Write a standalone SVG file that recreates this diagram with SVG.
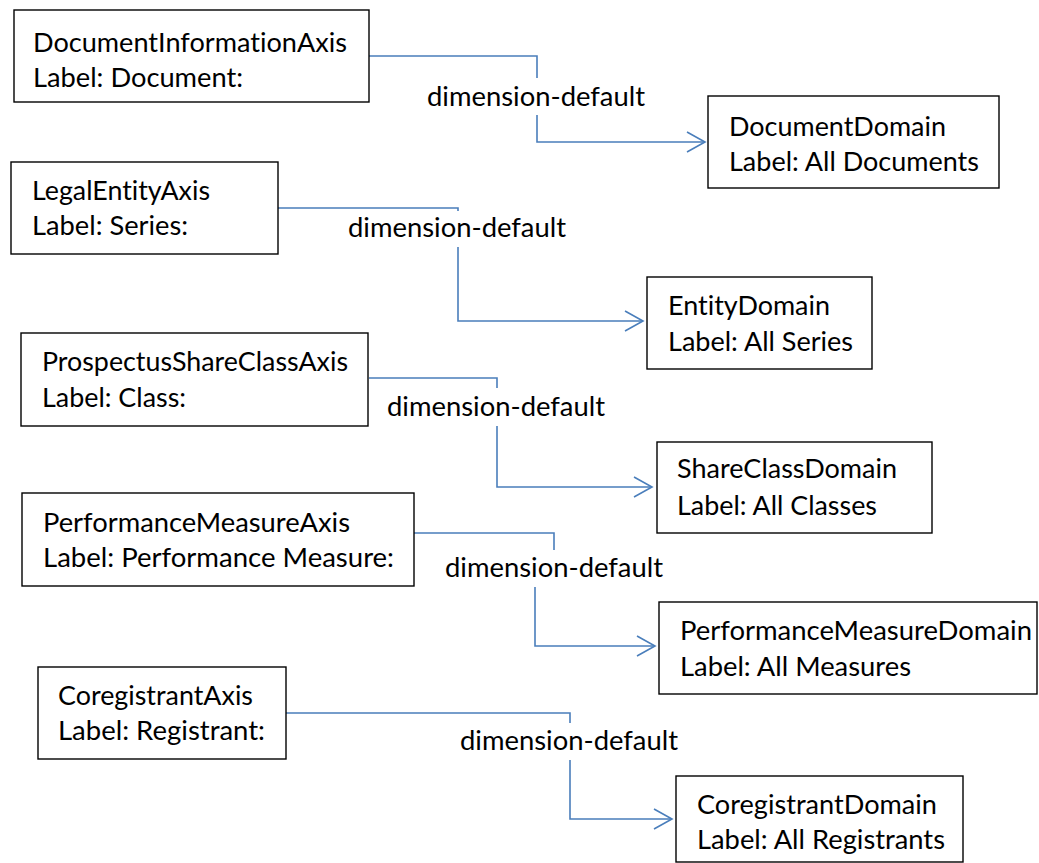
<svg xmlns="http://www.w3.org/2000/svg" width="1039" height="863" viewBox="0 0 1039 863">
<defs>
<marker id="arr" markerUnits="userSpaceOnUse" markerWidth="24" markerHeight="24" viewBox="-20 -12 24 24" refX="0" refY="0" orient="auto">
<path d="M-18,-10 L0,0 L-18,10" fill="none" stroke="#4A7EBB" stroke-width="1.6"/>
</marker>
</defs>
<style>
.box{fill:#fff;stroke:#000;stroke-width:1.4}
.t{font-family:Lato,"Liberation Sans",sans-serif;font-size:27.5px;fill:#000;font-variant-ligatures:none;font-feature-settings:"liga" 0,"clig" 0}
.c{fill:none;stroke:#4A7EBB;stroke-width:1.6}
</style>
<rect width="1039" height="863" fill="#fff"/>
<g id="connectors">
<path class="c" d="M369,56 H537 V78"/>
<path class="c" d="M537,115 V142 H705" marker-end="url(#arr)"/>
<path class="c" d="M278,208 H458 V211"/>
<path class="c" d="M458,247 V321 H643" marker-end="url(#arr)"/>
<path class="c" d="M369,378 H497 V388"/>
<path class="c" d="M497,426 V487 H652" marker-end="url(#arr)"/>
<path class="c" d="M414,533 H554 V550"/>
<path class="c" d="M535,587 V646 H655" marker-end="url(#arr)"/>
<path class="c" d="M286,713 H570 V723"/>
<path class="c" d="M570,760 V819 H672" marker-end="url(#arr)"/>
<text class="t" x="427" y="106" textLength="218" lengthAdjust="spacingAndGlyphs">dimension-default</text>
<text class="t" x="348" y="237" textLength="218" lengthAdjust="spacingAndGlyphs">dimension-default</text>
<text class="t" x="387" y="416" textLength="218" lengthAdjust="spacingAndGlyphs">dimension-default</text>
<text class="t" x="445" y="577" textLength="218" lengthAdjust="spacingAndGlyphs">dimension-default</text>
<text class="t" x="460" y="750" textLength="218" lengthAdjust="spacingAndGlyphs">dimension-default</text>
</g>
<g id="DocumentInformationAxis">
<rect class="box" x="14" y="10" width="355" height="92"/>
<text class="t" x="33" y="52" textLength="314" lengthAdjust="spacingAndGlyphs">DocumentInformationAxis</text>
<text class="t" x="33" y="87" textLength="210" lengthAdjust="spacingAndGlyphs">Label: Document:</text>
</g>
<g id="DocumentDomain">
<rect class="box" x="708" y="96" width="291" height="92"/>
<text class="t" x="729" y="136" textLength="217" lengthAdjust="spacingAndGlyphs">DocumentDomain</text>
<text class="t" x="729" y="171" textLength="250" lengthAdjust="spacingAndGlyphs">Label: All Documents</text>
</g>
<g id="LegalEntityAxis">
<rect class="box" x="11" y="162" width="267" height="92"/>
<text class="t" x="32" y="200" textLength="178" lengthAdjust="spacingAndGlyphs">LegalEntityAxis</text>
<text class="t" x="32" y="235" textLength="156" lengthAdjust="spacingAndGlyphs">Label: Series:</text>
</g>
<g id="EntityDomain">
<rect class="box" x="647" y="277" width="225" height="92"/>
<text class="t" x="668" y="315" textLength="162" lengthAdjust="spacingAndGlyphs">EntityDomain</text>
<text class="t" x="668" y="351" textLength="185" lengthAdjust="spacingAndGlyphs">Label: All Series</text>
</g>
<g id="ProspectusShareClassAxis">
<rect class="box" x="21" y="333" width="347" height="93"/>
<text class="t" x="42" y="371" textLength="306" lengthAdjust="spacingAndGlyphs">ProspectusShareClassAxis</text>
<text class="t" x="42" y="407" textLength="144" lengthAdjust="spacingAndGlyphs">Label: Class:</text>
</g>
<g id="ShareClassDomain">
<rect class="box" x="657" y="442" width="275" height="91"/>
<text class="t" x="677" y="478" textLength="220" lengthAdjust="spacingAndGlyphs">ShareClassDomain</text>
<text class="t" x="677" y="515" textLength="200" lengthAdjust="spacingAndGlyphs">Label: All Classes</text>
</g>
<g id="PerformanceMeasureAxis">
<rect class="box" x="22" y="493" width="392" height="93"/>
<text class="t" x="43" y="532" textLength="307" lengthAdjust="spacingAndGlyphs">PerformanceMeasureAxis</text>
<text class="t" x="43" y="567" textLength="351" lengthAdjust="spacingAndGlyphs">Label: Performance Measure:</text>
</g>
<g id="PerformanceMeasureDomain">
<rect class="box" x="659" y="602" width="378" height="92"/>
<text class="t" x="680" y="640" textLength="352" lengthAdjust="spacingAndGlyphs">PerformanceMeasureDomain</text>
<text class="t" x="680" y="676" textLength="231" lengthAdjust="spacingAndGlyphs">Label: All Measures</text>
</g>
<g id="CoregistrantAxis">
<rect class="box" x="38" y="667" width="248" height="92"/>
<text class="t" x="58" y="705" textLength="195" lengthAdjust="spacingAndGlyphs">CoregistrantAxis</text>
<text class="t" x="58" y="740" textLength="207" lengthAdjust="spacingAndGlyphs">Label: Registrant:</text>
</g>
<g id="CoregistrantDomain">
<rect class="box" x="676" y="776" width="287" height="86"/>
<text class="t" x="697" y="814" textLength="240" lengthAdjust="spacingAndGlyphs">CoregistrantDomain</text>
<text class="t" x="697" y="849" textLength="248" lengthAdjust="spacingAndGlyphs">Label: All Registrants</text>
</g>
</svg>
